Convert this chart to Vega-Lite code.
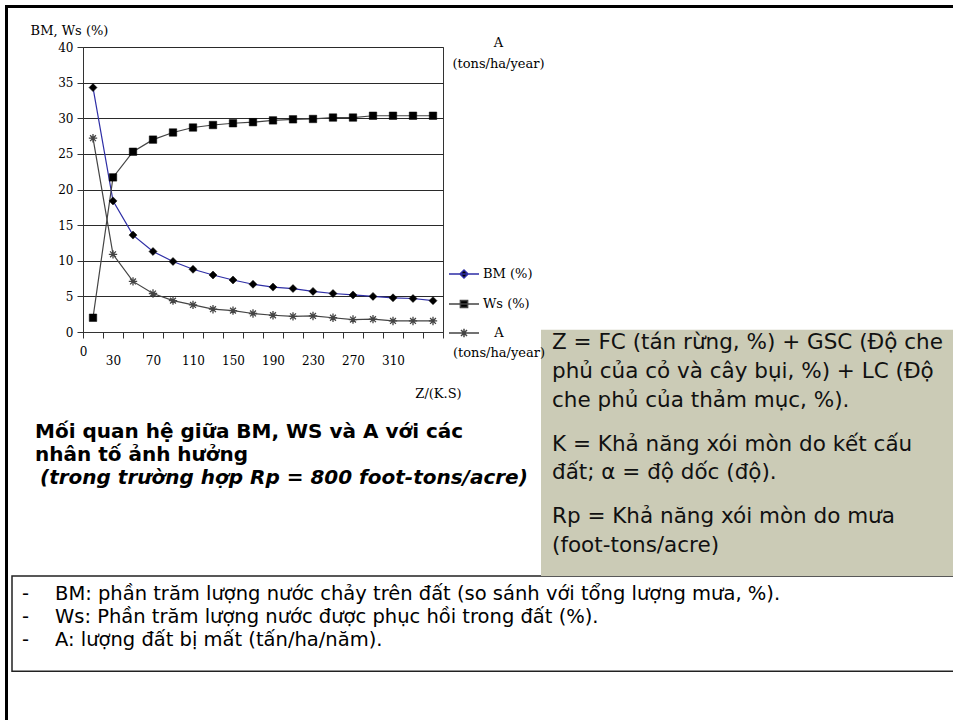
{
  "$schema": "https://vega.github.io/schema/vega-lite/v6.json",
  "width": 360,
  "height": 285,
  "autosize": {"type": "none"},
  "padding": {"left": 83, "top": 47, "right": 510, "bottom": 388},
  "background": "white",
  "config": {
    "view": {"stroke": "#333", "strokeWidth": 1},
    "axis": {"labelColor": "#000", "titleColor": "#000", "labelFont": "DejaVu Serif", "titleFont": "DejaVu Serif", "titleFontWeight": "normal"},
    "legend": {"labelColor": "#000", "labelFont": "DejaVu Serif"}
  },
  "datasets": {
    "series": [
      {"Z": 10, "series": "BM (%)", "value": 34.3},
      {"Z": 30, "series": "BM (%)", "value": 18.4},
      {"Z": 50, "series": "BM (%)", "value": 13.6},
      {"Z": 70, "series": "BM (%)", "value": 11.3},
      {"Z": 90, "series": "BM (%)", "value": 9.9},
      {"Z": 110, "series": "BM (%)", "value": 8.8},
      {"Z": 130, "series": "BM (%)", "value": 8.0},
      {"Z": 150, "series": "BM (%)", "value": 7.3},
      {"Z": 170, "series": "BM (%)", "value": 6.7},
      {"Z": 190, "series": "BM (%)", "value": 6.3},
      {"Z": 210, "series": "BM (%)", "value": 6.1},
      {"Z": 230, "series": "BM (%)", "value": 5.7},
      {"Z": 250, "series": "BM (%)", "value": 5.4},
      {"Z": 270, "series": "BM (%)", "value": 5.2},
      {"Z": 290, "series": "BM (%)", "value": 5.0},
      {"Z": 310, "series": "BM (%)", "value": 4.8},
      {"Z": 330, "series": "BM (%)", "value": 4.7},
      {"Z": 350, "series": "BM (%)", "value": 4.4},
      {"Z": 10, "series": "Ws (%)", "value": 2.0},
      {"Z": 30, "series": "Ws (%)", "value": 21.7},
      {"Z": 50, "series": "Ws (%)", "value": 25.3},
      {"Z": 70, "series": "Ws (%)", "value": 27.0},
      {"Z": 90, "series": "Ws (%)", "value": 28.0},
      {"Z": 110, "series": "Ws (%)", "value": 28.7},
      {"Z": 130, "series": "Ws (%)", "value": 29.05},
      {"Z": 150, "series": "Ws (%)", "value": 29.3},
      {"Z": 170, "series": "Ws (%)", "value": 29.45},
      {"Z": 190, "series": "Ws (%)", "value": 29.7},
      {"Z": 210, "series": "Ws (%)", "value": 29.85},
      {"Z": 230, "series": "Ws (%)", "value": 29.9},
      {"Z": 250, "series": "Ws (%)", "value": 30.1},
      {"Z": 270, "series": "Ws (%)", "value": 30.1},
      {"Z": 290, "series": "Ws (%)", "value": 30.35},
      {"Z": 310, "series": "Ws (%)", "value": 30.35},
      {"Z": 330, "series": "Ws (%)", "value": 30.35},
      {"Z": 350, "series": "Ws (%)", "value": 30.35},
      {"Z": 10, "series": "A (tons/ha/year)", "value": 27.2},
      {"Z": 30, "series": "A (tons/ha/year)", "value": 10.9},
      {"Z": 50, "series": "A (tons/ha/year)", "value": 7.1},
      {"Z": 70, "series": "A (tons/ha/year)", "value": 5.4},
      {"Z": 90, "series": "A (tons/ha/year)", "value": 4.4},
      {"Z": 110, "series": "A (tons/ha/year)", "value": 3.8},
      {"Z": 130, "series": "A (tons/ha/year)", "value": 3.2},
      {"Z": 150, "series": "A (tons/ha/year)", "value": 3.0},
      {"Z": 170, "series": "A (tons/ha/year)", "value": 2.6},
      {"Z": 190, "series": "A (tons/ha/year)", "value": 2.35},
      {"Z": 210, "series": "A (tons/ha/year)", "value": 2.2},
      {"Z": 230, "series": "A (tons/ha/year)", "value": 2.25},
      {"Z": 250, "series": "A (tons/ha/year)", "value": 2.0},
      {"Z": 270, "series": "A (tons/ha/year)", "value": 1.75},
      {"Z": 290, "series": "A (tons/ha/year)", "value": 1.8},
      {"Z": 310, "series": "A (tons/ha/year)", "value": 1.55},
      {"Z": 330, "series": "A (tons/ha/year)", "value": 1.55},
      {"Z": 350, "series": "A (tons/ha/year)", "value": 1.55}
    ],
    "box1": [{"t": "Z = FC (tán rừng, %) + GSC (Độ che\nphủ của cỏ và cây bụi, %) + LC (Độ\nche phủ của thảm mục, %)."}],
    "box2": [{"t": "K = Khả năng xói mòn do kết cấu\nđất; α = độ dốc (độ)."}],
    "box3": [{"t": "Rp = Khả năng xói mòn do mưa\n(foot-tons/acre)"}],
    "cap1": [{"t": "Mối quan hệ giữa BM, WS và A với các\nnhân tố ảnh hưởng"}],
    "cap2": [{"t": "(trong trường hợp Rp = 800 foot-tons/acre)"}],
    "dashes": [{"t": "-\n-\n-"}],
    "notes": [{"t": "BM: phần trăm lượng nước chảy trên đất (so sánh với tổng lượng mưa, %).\nWs: Phần trăm lượng nước được phục hồi trong đất (%).\nA: lượng đất bị mất (tấn/ha/năm)."}],
    "one": [{"k": 1}]
  },
  "resolve": {"axis": {"x": "independent", "y": "independent"}},
  "layer": [
    {
      "data": {"name": "one"},
      "mark": {"type": "rect", "fill": "transparent", "stroke": "#222", "strokeWidth": 1.5, "clip": false},
      "encoding": {
        "x": {"datum": -71, "type": "quantitative", "scale": {"domain": [0, 360], "nice": false, "zero": false}, "axis": null},
        "x2": {"datum": 890},
        "y": {"datum": -34.25, "type": "quantitative", "scale": {"domain": [0, 40], "nice": false, "zero": false}, "axis": null},
        "y2": {"datum": -47.6}
      }
    },
    {
      "data": {"name": "one"},
      "mark": {"type": "rect", "fill": "#cbcbb6", "clip": false},
      "encoding": {
        "x": {"datum": 458, "type": "quantitative", "scale": {"domain": [0, 360], "nice": false, "zero": false}, "axis": null},
        "x2": {"datum": 880},
        "y": {"datum": 0.3, "type": "quantitative", "scale": {"domain": [0, 40], "nice": false, "zero": false}, "axis": null},
        "y2": {"datum": -34.25}
      }
    },
    {
      "data": {"name": "one"},
      "mark": {"type": "rule", "stroke": "#000", "strokeWidth": 3, "clip": false},
      "encoding": {
        "x": {"datum": -78, "type": "quantitative", "scale": {"domain": [0, 360], "nice": false, "zero": false}, "axis": null},
        "x2": {"datum": 880},
        "y": {"datum": 45.68, "type": "quantitative", "scale": {"domain": [0, 40], "nice": false, "zero": false}, "axis": null}
      }
    },
    {
      "data": {"name": "one"},
      "mark": {"type": "rule", "stroke": "#000", "strokeWidth": 3, "clip": false},
      "encoding": {
        "x": {"datum": -76.5, "type": "quantitative", "scale": {"domain": [0, 360], "nice": false, "zero": false}, "axis": null},
        "y": {"datum": 45.9, "type": "quantitative", "scale": {"domain": [0, 40], "nice": false, "zero": false}, "axis": null},
        "y2": {"datum": -56}
      }
    },
    {
      "data": {"name": "series"},
      "mark": {"type": "line", "strokeWidth": 1.2},
      "encoding": {
        "x": {
          "field": "Z", "type": "quantitative",
          "scale": {"domain": [0, 360], "nice": false, "zero": false},
          "axis": {
            "values": [0, 20, 40, 60, 80, 100, 120, 140, 160, 180, 200, 220, 240, 260, 280, 300, 320, 340, 360],
            "labels": false, "grid": false, "tickSize": 6, "tickColor": "#333", "domainColor": "#333",
            "title": "Z/(K.S)", "titleX": 355, "titleY": 61, "titleAlign": "center", "titleBaseline": "middle",
            "titleFontSize": 13
          }
        },
        "y": {
          "field": "value", "type": "quantitative",
          "scale": {"domain": [0, 40], "nice": false, "zero": false},
          "axis": {
            "values": [0, 5, 10, 15, 20, 25, 30, 35, 40],
            "grid": true, "gridColor": "#2a2a2a", "gridWidth": 1,
            "tickSize": 6, "tickColor": "#333", "domainColor": "#333",
            "labelPadding": 4, "labelFontSize": 12,
            "title": "BM, Ws (%)", "titleAngle": 0, "titleX": -14, "titleY": -17,
            "titleAlign": "center", "titleBaseline": "middle", "titleFontSize": 13
          }
        },
        "stroke": {
          "field": "series", "type": "nominal",
          "scale": {"domain": ["BM (%)", "Ws (%)", "A (tons/ha/year)"], "range": ["#2e2ea6", "#444444", "#444444"]},
          "legend": {
            "orient": "none", "legendX": 365, "legendY": 211, "title": null, "padding": 0,
            "rowPadding": 6, "symbolSize": 900, "labelFontSize": 13, "labelOffset": 3,
            "labelExpr": "datum.value === 'A (tons/ha/year)' ? ['A', '(tons/ha/year)'] : datum.label",
            "encode": {
              "symbols": {"update": {
                "shape": {"signal": "datum.value === 'BM (%)' ? 'M-1,0L1,0M-0.27,0L0,-0.27L0.27,0L0,0.27Z' : datum.value === 'Ws (%)' ? 'M-1,0L1,0M-0.24,-0.24L0.24,-0.24L0.24,0.24L-0.24,0.24Z' : 'M-1,0L1,0M0,-0.28L0,0.28M-0.2,-0.2L0.2,0.2M-0.2,0.2L0.2,-0.2'"},
                "fill": {"signal": "datum.value === 'A (tons/ha/year)' ? 'transparent' : '#000'"},
                "stroke": {"signal": "datum.value === 'BM (%)' ? '#2e2ea6' : '#555'"},
                "strokeWidth": {"value": 1.5},
                "opacity": {"value": 1}
              }},
              "labels": {"update": {
                "align": {"signal": "datum.value === 'A (tons/ha/year)' ? 'center' : 'left'"},
                "dx": {"signal": "datum.value === 'A (tons/ha/year)' ? 16 : 0"},
                "lineHeight": {"value": 20}
              }}
            }
          }
        }
      }
    },
    {
      "data": {"name": "series"},
      "transform": [{"filter": {"field": "series", "equal": "BM (%)"}}],
      "mark": {"type": "point", "shape": "diamond", "filled": true, "fill": "#000", "stroke": "#000", "strokeWidth": 0.5, "size": 64, "opacity": 1},
      "encoding": {
        "x": {
          "field": "Z", "type": "quantitative",
          "scale": {"domain": [0, 360], "nice": false, "zero": false},
          "axis": {
            "orient": "bottom",
            "values": [0, 30, 70, 110, 150, 190, 230, 270, 310],
            "ticks": false, "tickSize": 0, "domain": false, "grid": false,
            "labelPadding": {"condition": {"test": "datum.value === 0", "value": 14}, "value": 23},
            "labelFontSize": 12, "labelFlush": false, "labelOverlap": false, "title": null
          }
        },
        "y": {"field": "value", "type": "quantitative", "scale": {"domain": [0, 40], "nice": false, "zero": false}, "axis": null}
      }
    },
    {
      "data": {"name": "series"},
      "transform": [{"filter": {"field": "series", "equal": "Ws (%)"}}],
      "mark": {"type": "point", "shape": "square", "filled": true, "fill": "#000", "stroke": "#000", "strokeWidth": 0.5, "size": 56, "opacity": 1},
      "encoding": {
        "x": {"field": "Z", "type": "quantitative", "scale": {"domain": [0, 360], "nice": false, "zero": false}, "axis": null},
        "y": {"field": "value", "type": "quantitative", "scale": {"domain": [0, 40], "nice": false, "zero": false}, "axis": null}
      }
    },
    {
      "data": {"name": "series"},
      "transform": [{"filter": {"field": "series", "equal": "A (tons/ha/year)"}}],
      "mark": {"type": "point", "shape": "M0,-1L0,1M-1,0L1,0M-0.7,-0.7L0.7,0.7M-0.7,0.7L0.7,-0.7", "filled": false, "stroke": "#444", "strokeWidth": 1.3, "size": 70, "opacity": 1},
      "encoding": {
        "x": {"field": "Z", "type": "quantitative", "scale": {"domain": [0, 360], "nice": false, "zero": false}, "axis": null},
        "y": {
          "field": "value", "type": "quantitative",
          "scale": {"domain": [0, 40], "nice": false, "zero": false},
          "axis": {
            "orient": "right", "labels": false, "ticks": false, "domain": false, "grid": false,
            "title": ["A", "(tons/ha/year)"], "titleAngle": 0, "titleX": 55, "titleY": -11,
            "titleAlign": "center", "titleBaseline": "top", "titleLineHeight": 21, "titleFontSize": 13
          }
        }
      }
    },
    {
      "data": {"name": "box1"},
      "mark": {"type": "text", "align": "left", "baseline": "top", "lineBreak": "\n", "lineHeight": 29, "font": "DejaVu Sans", "fontSize": 21.5, "color": "#111"},
      "encoding": {
        "x": {"datum": 469, "type": "quantitative", "scale": {"domain": [0, 360], "nice": false, "zero": false}, "axis": null},
        "y": {"datum": 0.0, "type": "quantitative", "scale": {"domain": [0, 40], "nice": false, "zero": false}, "axis": null},
        "text": {"field": "t"}
      }
    },
    {
      "data": {"name": "box2"},
      "mark": {"type": "text", "align": "left", "baseline": "top", "lineBreak": "\n", "lineHeight": 28, "font": "DejaVu Sans", "fontSize": 21.5, "color": "#111"},
      "encoding": {
        "x": {"datum": 469, "type": "quantitative", "scale": {"domain": [0, 360], "nice": false, "zero": false}, "axis": null},
        "y": {"datum": -14.32, "type": "quantitative", "scale": {"domain": [0, 40], "nice": false, "zero": false}, "axis": null},
        "text": {"field": "t"}
      }
    },
    {
      "data": {"name": "box3"},
      "mark": {"type": "text", "align": "left", "baseline": "top", "lineBreak": "\n", "lineHeight": 29, "font": "DejaVu Sans", "fontSize": 21.5, "color": "#111"},
      "encoding": {
        "x": {"datum": 469, "type": "quantitative", "scale": {"domain": [0, 360], "nice": false, "zero": false}, "axis": null},
        "y": {"datum": -24.42, "type": "quantitative", "scale": {"domain": [0, 40], "nice": false, "zero": false}, "axis": null},
        "text": {"field": "t"}
      }
    },
    {
      "data": {"name": "cap1"},
      "mark": {"type": "text", "align": "left", "baseline": "top", "lineBreak": "\n", "lineHeight": 23, "font": "DejaVu Sans", "fontSize": 20, "fontWeight": "bold", "color": "#000"},
      "encoding": {
        "x": {"datum": -48, "type": "quantitative", "scale": {"domain": [0, 360], "nice": false, "zero": false}, "axis": null},
        "y": {"datum": -12.7, "type": "quantitative", "scale": {"domain": [0, 40], "nice": false, "zero": false}, "axis": null},
        "text": {"field": "t"}
      }
    },
    {
      "data": {"name": "cap2"},
      "mark": {"type": "text", "align": "left", "baseline": "top", "font": "DejaVu Sans", "fontSize": 20, "fontWeight": "bold", "fontStyle": "italic", "color": "#000"},
      "encoding": {
        "x": {"datum": -43, "type": "quantitative", "scale": {"domain": [0, 360], "nice": false, "zero": false}, "axis": null},
        "y": {"datum": -19.02, "type": "quantitative", "scale": {"domain": [0, 40], "nice": false, "zero": false}, "axis": null},
        "text": {"field": "t"}
      }
    },
    {
      "data": {"name": "dashes"},
      "mark": {"type": "text", "align": "left", "baseline": "top", "lineBreak": "\n", "lineHeight": 23, "font": "DejaVu Sans", "fontSize": 19.5, "color": "#000"},
      "encoding": {
        "x": {"datum": -61, "type": "quantitative", "scale": {"domain": [0, 360], "nice": false, "zero": false}, "axis": null},
        "y": {"datum": -35.5, "type": "quantitative", "scale": {"domain": [0, 40], "nice": false, "zero": false}, "axis": null},
        "text": {"field": "t"}
      }
    },
    {
      "data": {"name": "notes"},
      "mark": {"type": "text", "align": "left", "baseline": "top", "lineBreak": "\n", "lineHeight": 23, "font": "DejaVu Sans", "fontSize": 19.5, "color": "#000"},
      "encoding": {
        "x": {"datum": -28, "type": "quantitative", "scale": {"domain": [0, 360], "nice": false, "zero": false}, "axis": null},
        "y": {"datum": -35.5, "type": "quantitative", "scale": {"domain": [0, 40], "nice": false, "zero": false}, "axis": null},
        "text": {"field": "t"}
      }
    }
  ]
}
